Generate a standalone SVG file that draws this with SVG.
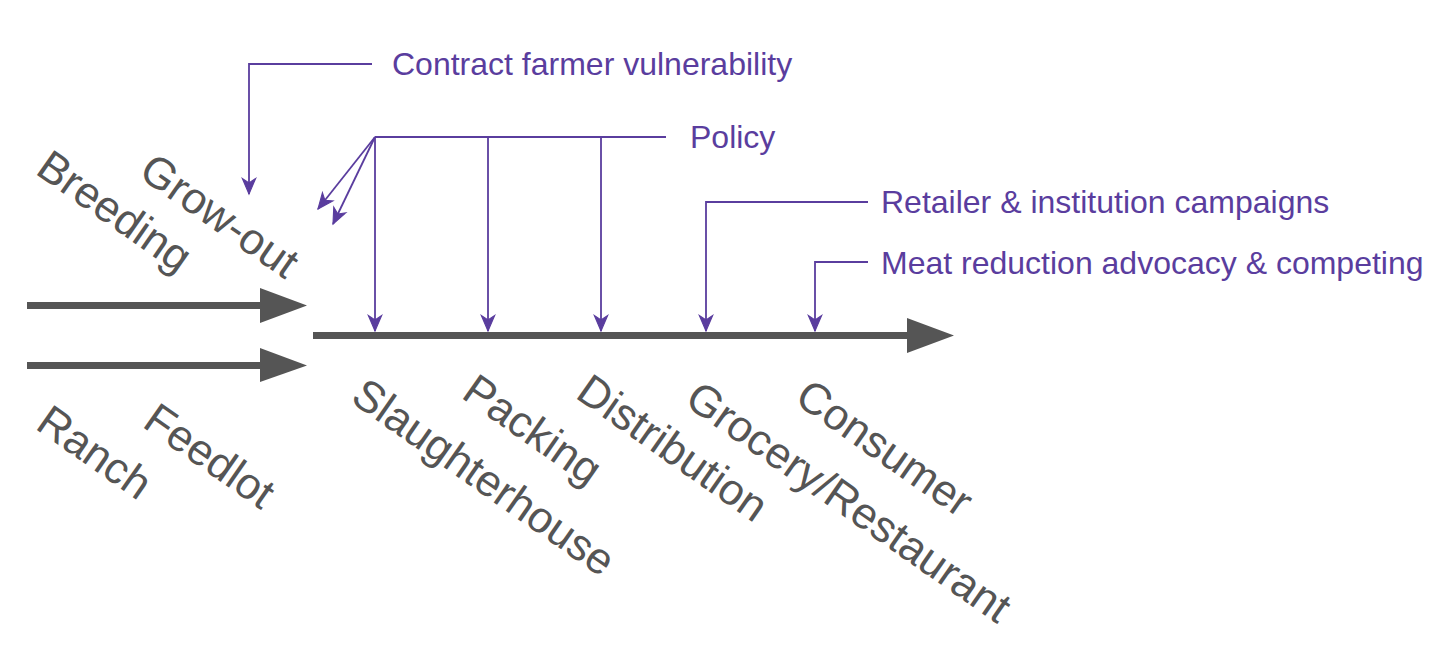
<svg xmlns="http://www.w3.org/2000/svg" width="1456" height="655" viewBox="0 0 1456 655">
<style>
.lbl{font-family:"Liberation Sans",Arial,sans-serif;font-size:44px;fill:#555555}
.ann{font-family:"Liberation Sans",Arial,sans-serif;font-size:32px;fill:#5a3d9e}
.pl{stroke:#5a3d9e;stroke-width:1.8;fill:none}
.pa{stroke:#5a3d9e;stroke-width:1.8;fill:none;marker-end:url(#ah)}
.bar{fill:#555555}
</style>
<defs>
<marker id="ah" markerUnits="userSpaceOnUse" markerWidth="20" markerHeight="20" refX="0" refY="0" viewBox="-16 -8 18 16" orient="auto" overflow="visible">
<path d="M0,0 L-14,-6 L-10,0 L-14,6 Z" fill="#5a3d9e" stroke="#5a3d9e" stroke-width="1"/>
</marker>
</defs>
<rect width="1456" height="655" fill="#ffffff"/>
<g id="flows">
<g id="arrow-top"><rect class="bar" x="27" y="302" width="236" height="7"/><polygon class="bar" points="260,288 307,305.5 260,323"/></g>
<g id="arrow-bottom"><rect class="bar" x="27" y="362" width="236" height="7"/><polygon class="bar" points="260,348 307,365.5 260,382"/></g>
<g id="arrow-main"><rect class="bar" x="313" y="332" width="597" height="7"/><polygon class="bar" points="907,318 954,335.5 907,353"/></g>
</g>
<g id="connectors">
<polyline class="pa" points="372,64 249,64 249,194"/>
<polyline class="pl" points="666,137 375,137"/>
<line class="pa" x1="375" y1="137" x2="375" y2="331"/>
<line class="pa" x1="488" y1="137" x2="488" y2="331"/>
<line class="pa" x1="601" y1="137" x2="601" y2="331"/>
<line class="pa" x1="375" y1="137" x2="318" y2="209"/>
<line class="pa" x1="375" y1="137" x2="333" y2="224"/>
<polyline class="pa" points="868,202 706,202 706,331"/>
<polyline class="pa" points="868,262 815,262 815,331"/>
</g>
<g id="annotations">
<g id="contract"><text class="ann" x="392" y="75">Contract farmer vulnerability</text></g>
<g id="policy"><text class="ann" x="690" y="148">Policy</text></g>
<g id="retailer"><text class="ann" x="881" y="213">Retailer &amp; institution campaigns</text></g>
<g id="meat"><text class="ann" x="881" y="274">Meat reduction advocacy &amp; competing</text></g>
</g>
<g id="stages">
<g id="breeding"><text class="lbl" transform="translate(34,173) rotate(35)">Breeding</text></g>
<g id="growout"><text class="lbl" transform="translate(137,176) rotate(35)">Grow-out</text></g>
<g id="ranch"><text class="lbl" transform="translate(34,428) rotate(35)">Ranch</text></g>
<g id="feedlot"><text class="lbl" transform="translate(141,426) rotate(35)">Feedlot</text></g>
<g id="slaughterhouse"><text class="lbl" transform="translate(349,401) rotate(35)">Slaughterhouse</text></g>
<g id="packing"><text class="lbl" transform="translate(460,397) rotate(35)">Packing</text></g>
<g id="distribution"><text class="lbl" transform="translate(574,397) rotate(35)">Distribution</text></g>
<g id="grocery"><text class="lbl" transform="translate(683,404) rotate(35)">Grocery/Restaurant</text></g>
<g id="consumer"><text class="lbl" transform="translate(793,402) rotate(35)">Consumer</text></g>
</g>
</svg>
